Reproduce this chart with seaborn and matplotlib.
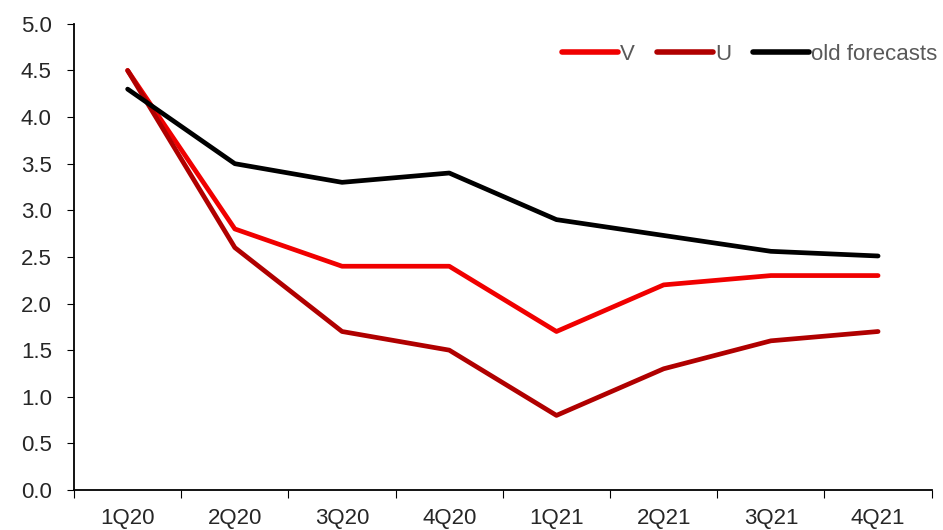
import matplotlib
matplotlib.use("Agg")
import matplotlib.pyplot as plt
import numpy as np
import pandas as pd
import seaborn as sns

quarters = ['1Q20', '2Q20', '3Q20', '4Q20', '1Q21', '2Q21', '3Q21', '4Q21']
v_values = [4.5, 2.8, 2.4, 2.4, 1.7, 2.2, 2.3, 2.3]
u_values = [4.5, 2.6, 1.7, 1.5, 0.8, 1.3, 1.6, 1.7]
old_values = [4.3, 3.5, 3.3, 3.4, 2.9, 2.73, 2.56, 2.51]
series_names = ['V', 'U', 'old forecasts']
series_colors = ['#F00000', '#B00000', '#000000']

sns.set_style("ticks")
plt.rcParams['font.family'] = ['Liberation Sans', 'DejaVu Sans']

df = pd.DataFrame({
    'pos': list(range(len(quarters))) * 3,
    'value': v_values + u_values + old_values,
    'series': [s for s in series_names for _ in quarters],
})

fig = plt.figure(figsize=(9.43, 5.3), dpi=100)
ax = fig.add_axes([0.0785, 0.0755, 0.9095, 0.8795])
sns.lineplot(data=df, x='pos', y='value', hue='series', hue_order=series_names,
             palette=series_colors, linewidth=3.4, ax=ax, legend=True)

ax.set_xlim(-0.5, len(quarters) - 0.5)
ax.set_ylim(0, 5)
yt = np.arange(0, 5.01, 0.5)
ax.set_yticks(yt)
ax.set_yticklabels([f'{v:.1f}' for v in yt], fontsize=16)
ax.set_xticks(np.arange(-0.5, len(quarters)), labels=[])
ax.set_xticks(range(len(quarters)), labels=quarters, minor=True)
ax.tick_params(axis='x', which='major', length=6, direction='out', color='black')
ax.tick_params(axis='x', which='minor', length=0, pad=13, labelsize=16)
ax.tick_params(axis='y', length=5, direction='out', color='black', pad=11)
ax.set_xlabel('')
ax.set_ylabel('')
for s in ['top', 'right']:
    ax.spines[s].set_visible(False)
for s in ['left', 'bottom']:
    ax.spines[s].set_color('black')
    ax.spines[s].set_linewidth(1.3)

leg = ax.legend(loc='upper right', bbox_to_anchor=(1.03, 1.0), ncol=3, frameon=False,
                fontsize=16, handlelength=2.5, handletextpad=0.1, columnspacing=1.0)
for t in leg.get_texts():
    t.set_color('#595959')
for h in leg.get_lines():
    h.set_linewidth(4)
    h.set_solid_capstyle('round')

fig.savefig('out.png', dpi=100)
